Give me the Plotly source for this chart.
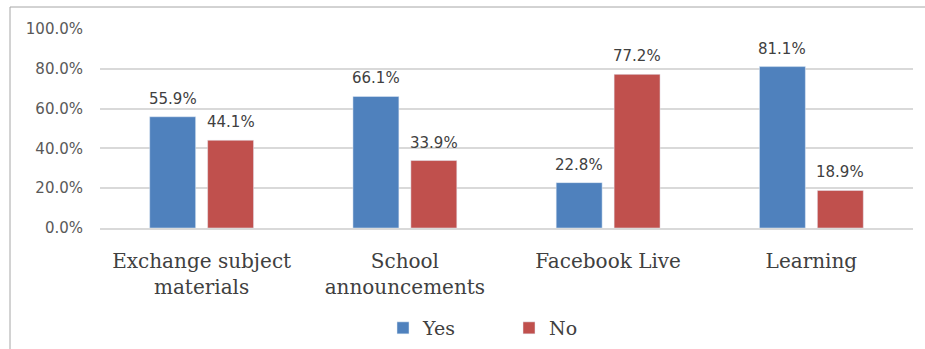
import plotly.graph_objects as go

categories = ["Exchange subject<br>materials", "School<br>announcements", "Facebook Live", "Learning"]
yes_vals = [0.559, 0.661, 0.228, 0.811]
no_vals = [0.441, 0.339, 0.772, 0.189]
tick_vals = [0, 0.2, 0.4, 0.6, 0.8, 1.0]
tick_text = ["0.0%", "20.0%", "40.0%", "60.0%", "80.0%", "100.0%"]
series = [("Yes", yes_vals, "#4F81BD", -29), ("No", no_vals, "#C0504D", 29)]

label_font = dict(family="DejaVu Sans", size=15, color="#404040")

fig = go.Figure()
for name, vals, color, shift in series:
    fig.add_trace(go.Bar(x=categories, y=vals, name=name, marker_color=color))
    for c, v in zip(categories, vals):
        fig.add_annotation(x=c, y=v, text=f"{v*100:.1f}%", showarrow=False,
                           xshift=shift, yshift=7, yanchor="bottom",
                           font=label_font)

fig.update_layout(
    width=925, height=349,
    margin=dict(l=100, r=12, t=29, b=121, autoexpand=False),
    paper_bgcolor="white", plot_bgcolor="white",
    barmode="group", bargap=0.43, bargroupgap=0.207,
    showlegend=True,
    legend=dict(
        orientation="h", xref="container", yref="container",
        x=383/925, xanchor="left", y=1-328/349, yanchor="middle",
        font=dict(family="DejaVu Serif", size=19, color="#404040"),
        entrywidth=81, entrywidthmode="pixels", itemwidth=30,
    ),
)
fig.update_yaxes(
    range=[0, 1], tickvals=tick_vals, ticktext=tick_text, automargin=False,
    showgrid=True, gridcolor="#D9D9D9", gridwidth=1.5,
    zeroline=False, showline=False,
    tickfont=dict(family="DejaVu Sans", size=15, color="#595959"),
    ticklen=0, ticks="", ticklabelstandoff=16,
)
fig.update_xaxes(
    showline=True, linecolor="#D9D9D9", linewidth=1.5, automargin=False,
    tickfont=dict(family="DejaVu Serif", size=20, color="#404040"),
    ticks="", ticklabelstandoff=14,
)
# outer chart border (left and top edges visible)
fig.add_shape(type="line", xref="paper", yref="paper",
              x0=-90/813, x1=1.2, y0=(228-7)/199, y1=(228-7)/199,
              line=dict(color="#A6A6A6", width=1))
fig.add_shape(type="line", xref="paper", yref="paper",
              x0=-90/813, x1=-90/813, y0=(228-7)/199, y1=-1.2,
              line=dict(color="#A6A6A6", width=1))

fig.write_html("out.html")
